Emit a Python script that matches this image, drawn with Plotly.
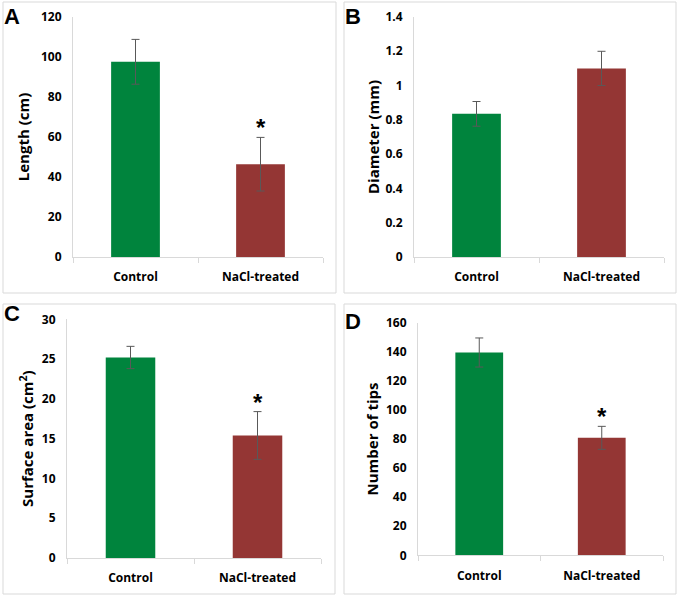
import plotly.graph_objects as go

W, H = 682, 597

categories = ["Control", "NaCl-treated"]
length_cm = [97.6, 46.4]
length_err = [11.2, 13.4]
diameter_mm = [0.835, 1.10]
diameter_err = [0.072, 0.10]
surface_cm2 = [25.2, 15.4]
surface_err = [1.4, 3.0]
tips = [139.5, 80.8]
tips_err = [10.0, 7.9]
stars = ["", "*"]
stars_b = ["", ""]

panel_letters = ["A", "B", "C", "D"]
titles = ["Length (cm)", "Diameter (mm)", "Surface area (cm<sup>2</sup>)", "Number of tips"]
yranges = [[0, 120], [0, 1.4], [0, 30], [0, 160]]
ydticks = [20, 0.2, 5, 20]

colors = ["#00843D", "#943634"]
FONT = "Open Sans"

def px(x):
    return x / W

def py(y):
    return 1 - y / H

boxes = [
    (73, 323, 17, 257),
    (414, 664, 17, 257),
    (67, 321, 319.3, 558),
    (418, 663, 322.7, 555.3),
]
borders = [
    (3, 2, 336, 293),
    (344, 2, 676, 293),
    (3, 304, 335, 594),
    (344, 304, 676, 594),
]
letter_pos = [(2, 16), (343, 16.5), (2, 313), (343, 321)]
ylab_standoff = [7, 2, 4, 3]
ytick_standoff = [8, 8, 8, 8]

data = [(length_cm, length_err, stars), (diameter_mm, diameter_err, stars_b),
        (surface_cm2, surface_err, stars), (tips, tips_err, stars)]

fig = go.Figure()
annotations = []
shapes = []
layout = {}
for i, (vals, errs, st) in enumerate(data):
    n = "" if i == 0 else str(i + 1)
    fig.add_trace(go.Bar(
        x=categories, y=vals,
        marker=dict(color=colors, line=dict(width=0)),
        error_y=dict(type="data", array=errs, visible=True, color="#595959",
                     thickness=1, width=4),
        xaxis="x" + n, yaxis="y" + n, showlegend=False, width=0.39,
    ))
    x0, x1, yt, yb = boxes[i]
    layout["xaxis" + n] = dict(
        domain=[px(x0), px(x1)], anchor="y" + n, automargin=False,
        showline=True, linecolor="#D9D9D9", linewidth=1,
        ticks="outside", tickson="boundaries", ticklen=5, tickcolor="#D9D9D9",
        ticklabelstandoff=9,
        showgrid=False, fixedrange=True,
    )
    layout["yaxis" + n] = dict(
        domain=[py(yb), py(yt)], anchor="x" + n, automargin=False,
        range=yranges[i], dtick=ydticks[i], tick0=0,
        showline=True, linecolor="#D9D9D9", linewidth=1,
        ticks="", showgrid=False, zeroline=False,
        ticklabelstandoff=ytick_standoff[i],
        title=dict(text=titles[i], standoff=ylab_standoff[i]),
        fixedrange=True,
    )
    for j, s in enumerate(st):
        if s:
            annotations.append(dict(
                x=categories[j], y=vals[j] + errs[j], xref="x" + n, yref="y" + n,
                text="<b>" + s + "</b>", showarrow=False, yanchor="bottom",
                font=dict(family="Liberation Sans", size=24, color="#000000"), yshift=-6,
            ))
    bx0, by0, bx1, by1 = borders[i]
    shapes.append(dict(type="rect", xref="paper", yref="paper",
                       x0=px(bx0), x1=px(bx1), y0=py(by1), y1=py(by0),
                       line=dict(color="#D9D9D9", width=1)))
    lx, ly = letter_pos[i]
    annotations.append(dict(
        x=px(lx), y=py(ly), xref="paper", yref="paper", xanchor="left", yanchor="middle",
        text="<b>" + panel_letters[i] + "</b>", showarrow=False,
        font=dict(family="Liberation Sans", size=22, color="#000000"),
    ))

fig.update_layout(
    width=W, height=H, margin=dict(l=0, r=0, t=0, b=0, pad=0, autoexpand=False),
    paper_bgcolor="white", plot_bgcolor="white",
    annotations=annotations, shapes=shapes,
    font=dict(family=FONT, color="#000000"),
    **layout,
)
fig.update_xaxes(tickfont=dict(family=FONT, size=12, color="#000000", weight="bold"))
fig.update_yaxes(tickfont=dict(family=FONT, size=12, color="#000000", weight="bold"),
                 title_font=dict(family=FONT, size=15, color="#000000", weight="bold"))

fig.write_html("out.html", config={"displayModeBar": False},
               post_script="document.body.style.margin='0';document.body.style.padding='0';")
